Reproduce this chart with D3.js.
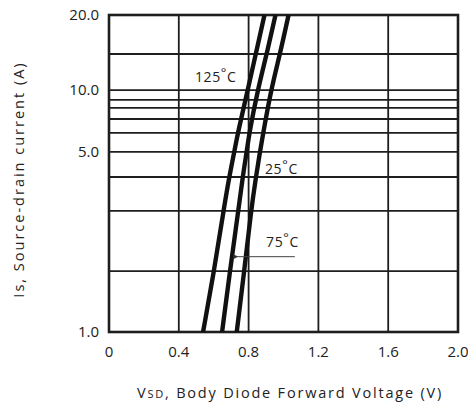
<!DOCTYPE html>
<html>
<head>
<meta charset="utf-8">
<script src="https://cdn.jsdelivr.net/npm/d3@7"></script>
<style>
  body { margin: 0; background: #fff; }
  text { font-family: "Open Sans", sans-serif; fill: #222; }
</style>
</head>
<body>
<div id="chart-area"></div>
<script>
// Is vs Vsd, body diode forward characteristic

// data (current in A, voltage in V)
var currents = [1, 2, 3, 4, 5, 6, 10, 15, 20];
var vsd125 = [0.539, 0.602, 0.656, 0.689, 0.718, 0.738, 0.795, 0.841, 0.891];
var vsd75  = [0.648, 0.693, 0.741, 0.766, 0.789, 0.804, 0.852, 0.904, 0.954];
var vsd25  = [0.732, 0.775, 0.814, 0.842, 0.865, 0.884, 0.928, 0.980, 1.029];

var xTicks = [0, 0.4, 0.8, 1.2, 1.6, 2.0];
var xTickLabels = ["0", "0.4", "0.8", "1.2", "1.6", "2.0"];
var yGrid = [1, 2, 3, 4, 5, 6, 7, 8, 9, 10, 15, 20];
var yTicks = [1, 5, 10, 20];
var yTickLabels = ["1.0", "5.0", "10.0", "20.0"];

// temperature labels: [text, V, A]
var tempLabels = [["125", 0.493, 11.1], ["25", 0.894, 4.12], ["75", 0.9, 2.405]];
var arrowPts = [[1.065, 2.24], [0.735, 2.24]];

var margin = { left: 109, right: 10, top: 15, bottom: 73 };
var width = 468 - margin.left - margin.right,
    height = 405 - margin.top - margin.bottom;

// the printed log grid is not evenly spaced, so calibrate the axis
// to where each gridline sits (fraction of plot height from bottom)
var yStops = [0, 0.192, 0.382, 0.489, 0.568, 0.628, 0.672, 0.707, 0.732, 0.763, 0.877, 1];

var svg = d3.select("#chart-area")
    .append("svg")
        .attr("width", 468)
        .attr("height", 405);

var g = svg.append("g")
    .attr("transform", "translate(" + margin.left + "," + margin.top + ")");

var x = d3.scaleLinear().domain([0, 2]).range([0, width]);
var y = d3.scaleLinear().domain(yGrid).range(yStops.map(f => height * (1 - f)));

// grid
g.selectAll(".hgrid").data(yGrid).join("line")
    .attr("x1", 0).attr("x2", width)
    .attr("y1", d => y(d)).attr("y2", d => y(d))
    .attr("stroke", "#1e1e1e").attr("stroke-width", 1.8);

g.selectAll(".vgrid").data(xTicks).join("line")
    .attr("x1", d => x(d)).attr("x2", d => x(d))
    .attr("y1", 0).attr("y2", height)
    .attr("stroke", "#1e1e1e").attr("stroke-width", 1.8);

g.append("rect")
    .attr("width", width).attr("height", height)
    .attr("fill", "none").attr("stroke", "#1e1e1e").attr("stroke-width", 2.6);

// curves
var line = d3.line()
    .x(d => x(d[0]))
    .y(d => y(d[1]))
    .curve(d3.curveBasis);

[vsd125, vsd75, vsd25].forEach(function(s) {
    g.append("path")
        .datum(s.map((v, i) => [v, currents[i]]))
        .attr("d", line)
        .attr("fill", "none")
        .attr("stroke", "#111")
        .attr("stroke-width", 4.4);
});

// tick labels
g.selectAll(".ylab").data(yTicks).join("text")
    .attr("x", -10).attr("y", d => y(d))
    .attr("dy", "0.35em")
    .attr("text-anchor", "end")
    .attr("font-size", 15)
    .text((d, i) => yTickLabels[i]);

g.selectAll(".xlab").data(xTicks).join("text")
    .attr("x", d => x(d)).attr("y", height + 25)
    .attr("text-anchor", "middle")
    .attr("font-size", 15)
    .text((d, i) => xTickLabels[i]);

// temperature labels
tempLabels.forEach(function(t) {
    var txt = g.append("text")
        .attr("x", x(t[1])).attr("y", y(t[2]))
        .attr("font-size", 14)
        .attr("letter-spacing", 0.6);
    txt.append("tspan").text(t[0]);
    txt.append("tspan").attr("dy", -5).attr("font-size", 13).text("°");
    txt.append("tspan").attr("dy", 5).text("C");
});

// arrow to the 75 C curve
svg.append("defs").append("marker")
    .attr("id", "head")
    .attr("viewBox", "0 0 10 10")
    .attr("refX", 2).attr("refY", 5)
    .attr("markerWidth", 5).attr("markerHeight", 5)
    .attr("orient", "auto")
  .append("path")
    .attr("d", "M10,0 L0,5 L10,10 z")
    .attr("fill", "#333");

g.append("line")
    .attr("x1", x(arrowPts[0][0])).attr("y1", y(arrowPts[0][1]))
    .attr("x2", x(arrowPts[1][0])).attr("y2", y(arrowPts[1][1]))
    .attr("stroke", "#444").attr("stroke-width", 1)
    .attr("marker-end", "url(#head)");

// axis titles
var xt = svg.append("text")
    .attr("x", 290).attr("y", 398)
    .attr("text-anchor", "middle")
    .attr("font-size", 14.5)
    .attr("letter-spacing", 1.8);
xt.append("tspan").text("V");
xt.append("tspan").attr("font-size", 11).text("SD");
xt.append("tspan").text(", Body Diode Forward Voltage (V)");

svg.append("text")
    .attr("transform", "translate(24," + (margin.top + height / 2 + 6) + ") rotate(-90)")
    .attr("text-anchor", "middle")
    .attr("font-size", 14.5)
    .attr("letter-spacing", 2)
    .text("Is, Source-drain current (A)");
</script>
</body>
</html>
